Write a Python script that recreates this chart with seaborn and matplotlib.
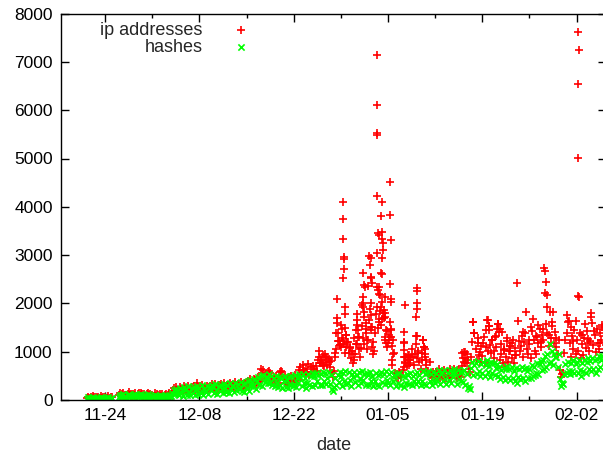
import numpy as np
import pandas as pd
import matplotlib
matplotlib.use('Agg')
import matplotlib.pyplot as plt
import matplotlib.dates as mdates
import seaborn as sns

nan = np.nan

# samples every 4 hours starting 2013-11-21 00:00 (one row = one day)
start = '2013-11-21 00:00'

hashes_w1 = [nan, nan, 30, 52, 18, 41,
             27, 55, 36, 12, 48, 33,
             44, 21, 58, 30, 39, 15,
             50, 26, 34, 61, 22, 45,
             38, nan, nan, nan, nan, nan,
             70, 112, 58, 95, 124, 66,
             88, 47, 103, 130, 76, 92]
hashes_w2 = [64, 105, 82, 121, 53, 97,
             110, 73, 128, 88, 61, 102,
             57, 93, 115, 70, 99, 48,
             84, 62, 107, 45, 91, 76,
             52, 98, 66, 87, 40, 79,
             95, 48, 73, 104, 58, 83,
             150, 205, 132, 238, 176, 121]
hashes_w3 = [112, 251, 168, 84, 276, 197,
             231, 108, 283, 162, 95, 258,
             148, 272, 99, 219, 295, 131,
             256, 142, 307, 110, 236, 184,
             163, 289, 121, 262, 201, 318,
             276, 147, 322, 214, 124, 296,
             178, 310, 232, 137, 334, 251]
hashes_w4 = [171, 309, 138, 343, 219, 281,
             297, 158, 356, 205, 332, 229,
             238, 372, 181, 326, 157, 351,
             254, 389, 196, 424, 281, 362,
             296, 441, 228, 398, 468, 309,
             331, 492, 287, 521, 379, 452,
             476, 342, 548, 361, 497, 309]
hashes_w5 = [448, 285, 503, 351, 262, 468,
             312, 451, 248, 398, 487, 271,
             409, 241, 467, 318, 496, 282,
             331, 512, 262, 448, 357, 529,
             471, 291, 538, 342, 447, 256,
             362, 541, 305, 498, 281, 552,
             507, 318, 566, 389, 524, 301]
hashes_w6 = [532, 318, 589, 397, 561, 336,
             448, 581, 331, 512, 228, 176,
             271, 452, 318, 527, 365, 573,
             489, 296, 558, 402, 604, 322,
             356, 579, 421, 298, 548, 473,
             589, 382, 521, 309, 571, 428,
             352, 597, 418, 538, 315, 562]
hashes_w7 = [521, 305, 578, 384, 502, 291,
             398, 561, 318, 512, 282, 547,
             586, 372, 531, 326, 599, 414,
             348, 548, 309, 572, 401, 509,
             491, 284, 538, 362, 561, 302,
             318, 503, 271, 482, 352, 528,
             519, 341, 566, 312, 491, 389]
hashes_w8 = [531, 322, 582, 388, 509, 301,
             395, 592, 331, 546, 306, 558,
             601, 402, 531, 318, 579, 421,
             352, 562, 437, 622, 341, 545,
             576, 389, 618, 428, 331, 561,
             418, 612, 347, 569, 469, 634,
             558, 341, 628, 437, 584, 396]
hashes_w9 = [581, 372, 622, 305, 538, 251,
             292, 236, 658, 791, 512, 733,
             761, 528, 812, 598, 492, 741,
             561, 784, 502, 718, 838, 583,
             712, 481, 796, 561, 759, 522,
             662, 748, 503, 681, 436, 628,
             482, 661, 419, 632, 694, 458]
hashes_w10 = [632, 418, 677, 452, 608, 391,
              661, 345, 482, 643, 427, 689,
              455, 638, 401, 672, 597, 449,
              648, 463, 716, 501, 681, 522,
              566, 774, 538, 746, 801, 612,
              838, 641, 915, 692, 958, 761,
              1150, 789, 1021, 732, 946, 898]
hashes_w11 = [891, 682, 958, 431, 292, 361,
              322, 528, 738, 551, 779, 592,
              538, 768, 597, 823, 556, 742,
              788, 569, 836, 612, 498, 761,
              601, 831, 552, 796, 867, 637,
              812, 592, 878, 651, 821, 566,
              856, 643, 907, 688, 832, 918]
hashes_w12 = [862, 698, 935, 712, 889, 741]

ip_w1 = [nan, nan, 45, 70, 35, 60,
         40, 80, 52, 30, 66, 48,
         58, 35, 75, 45, 62, 30,
         68, 40, 50, 85, 38, 60,
         55, nan, nan, nan, nan, nan,
         95, 140, 80, 120, 150, 90,
         110, 70, 125, 160, 100, 115]
ip_w2 = [90, 130, 105, 150, 80, 125,
         140, 95, 150, 115, 90, 130,
         80, 120, 145, 95, 125, 75,
         110, 85, 135, 70, 120, 100,
         80, 125, 90, 115, 65, 105,
         120, 75, 100, 135, 85, 110,
         185, 240, 165, 275, 210, 160]
ip_w3 = [185, 265, 210, 150, 290, 230,
         250, 175, 300, 220, 160, 275,
         200, 285, 165, 245, 350, 190,
         275, 205, 320, 170, 255, 230,
         215, 300, 185, 280, 240, 330,
         295, 210, 335, 245, 190, 310,
         230, 325, 260, 200, 345, 280]
ip_w4 = [240, 320, 205, 350, 265, 300,
         315, 230, 365, 260, 340, 280,
         285, 375, 250, 340, 225, 360,
         305, 390, 270, 430, 330, 375,
         350, 445, 310, 415, 470, 365,
         400, 640, 560, 620, 445, 470,
         490, 590, 610, 560, 505, 385]
ip_w5 = [460, 360, 500, 410, 345, 470,
         590, 600, 580, 430, 485, 350,
         435, 320, 470, 385, 500, 360,
         395, 510, 345, 460, 415, 620,
         680, 560, 720, 610, 540, 650,
         590, 740, 520, 680, 560, 710,
         640, 530, 700, 600, 820, 760]
ip_w6 = [820, 760, 940, 700, 880, 790,
         730, 850, 690, 800, 560, 480,
         610, 880, 1060, 1380, 1230, 1140,
         1090, 1480, 1250, 1160, 980, 1350,
         1200, 980, 1100, 870, 1010, 760,
         820, 960, 1160, 1450, 1310, 900,
         1070, 1540, 1280, 1720, 1460, 1240]
ip_w7 = [1240, 1650, 1880, 1520, 1100, 960,
         1380, 1780, 1920, 1500, 1670, 1840,
         1560, 2030, 1870, 1300, 1190, 1420,
         1180, 1350, 1620, 1480, 1240, 980,
         560, 470, 540, 460, 580, 520,
         480, 620, 1180, 760, 890, 700,
         820, 930, 760, 1050, 880, 720]
ip_w8 = [960, 1330, 870, 1020, 780, 640,
         830, 1240, 1100, 960, 720, 610,
         600, 520, 560, 480, 590, 540,
         470, 580, 530, 640, 450, 560,
         590, 480, 620, 510, 450, 570,
         500, 640, 460, 590, 550, 650,
         570, 460, 630, 520, 600, 480]
ip_w9 = [700, 860, 1000, 760, 960, 820,
         640, 580, 900, 1210, 1610, 1380,
         1050, 820, 1290, 940, 780, 1120,
         910, 1180, 760, 1440, 1660, 1020,
         1540, 1130, 980, 1250, 870, 1310,
         1090, 1470, 1575, 1400, 820, 960,
         760, 1040, 690, 880, 1220, 790]
ip_w10 = [1020, 1125, 870, 1250, 760, 1080,
          940, 2430, 1645, 1230, 1010, 1330,
          880, 1200, 1390, 1820, 1060, 950,
          1160, 870, 1420, 1680, 1250, 1010,
          960, 1300, 1180, 1460, 1090, 1350,
          1240, 2740, 2215, 1580, 1390, 1120,
          1820, 1290, 1530, 1820, 1170, 1400]
ip_w11 = [1100, 960, 1240, 620, 480, 540,
          560, 980, 1240, 1750, 1610, 1645,
          1180, 890, 1320, 1050, 1450, 960,
          1240, 1010, 2130, 1380, 860, 1150,
          930, 1280, 1070, 1420, 1190, 1010,
          1230, 1800, 1595, 1130, 1350, 990,
          1460, 1180, 1050, 1390, 1240, 1510]
ip_w12 = [1210, 1450, 1130, 1320, 1080, 1400]

# extra ip points (days after 11-24, value)
spike_days = [31.75, 31.7, 31.85, 32.0, 32.4, 32.7, 33.0, 33.3,
              34.2, 34.3, 34.38, 34.38, 34.4, 34.55, 34.8,
              35.0, 35.1, 35.27, 35.27, 35.36, 35.36, 35.47, 35.5, 35.47, 35.6, 35.62, 35.65, 35.7, 35.75, 35.9,
              36.4, 36.8, 36.9, 37.2, 37.3, 37.35, 37.37, 37.45, 37.47, 37.7,
              38.2, 38.33, 38.33, 38.35, 38.33, 38.43, 38.48, 38.5, 38.63, 38.7, 38.8, 38.9,
              39.1, 39.2, 39.3, 39.4, 39.4, 39.42, 39.45, 39.45, 39.5, 39.55, 39.55, 39.7, 39.9,
              40.32, 40.32, 40.31, 40.34, 40.4, 40.32, 40.32, 40.47, 40.5, 40.6, 40.7, 40.7, 40.72, 40.8, 40.9, 40.95,
              41.0, 41.06, 41.06, 41.1, 41.15, 41.15, 41.17, 41.2, 41.25, 41.3, 41.4, 41.5, 41.55, 41.57, 41.6, 41.7, 41.9,
              42.2, 42.3, 42.3, 42.32, 42.4, 42.4, 42.45, 42.47, 42.5, 42.55, 42.6, 42.65, 42.7,
              44.3, 44.35, 44.36, 44.4, 44.42, 44.5, 44.52, 44.55,
              45.0, 45.1, 45.3, 45.4,
              46.1, 46.2, 46.26, 46.26, 46.27, 46.35, 46.35, 46.5,
              47.1, 47.2, 47.3, 47.45, 47.47, 47.7, 48.2,
              53.0, 53.25, 53.4, 53.42, 53.75,
              54.66, 54.8, 55.3, 55.7, 56.2, 56.5, 56.9, 56.92, 57.05, 57.4, 57.8, 58.1, 58.4, 58.55,
              58.7, 58.9, 59.2, 59.6, 60.1, 60.12, 60.4, 60.8, 61.7, 62.1, 62.9, 63.2, 63.9, 64.3,
              64.7, 65.0, 65.3, 65.45, 65.55, 65.6, 65.9, 66.4, 67.0, 68.6, 69.1, 69.5, 69.9,
              70.15, 70.15, 70.2, 70.2, 70.35, 70.8, 71.3, 71.7, 72.15, 72.6, 73.4, 73.8, 74.1]
spike_vals = [1020, 880, 760, 830, 720, 950, 884, 793,
              980, 1380, 2090, 1704, 1600, 1228, 1139,
              1550, 1290, 3740, 2532, 4105, 3327, 2960, 2912, 2712, 1931, 1774, 1484, 1091, 1345, 1207,
              1076, 950, 1290, 1449, 1159, 1774, 1656, 1552, 1310, 1050,
              1967, 2635, 2138, 2002, 1931, 1828, 2380, 1150, 2333, 1600, 1380, 1060,
              2360, 2981, 2795, 2933, 2532, 2002, 1760, 1449, 2553, 2428, 1517, 1200, 1020,
              7142, 6106, 5486, 5520, 4223, 3037, 2345, 3451, 2277, 2194, 3416, 2333, 1621, 2173, 2623, 3809,
              1919, 3484, 2608, 3327, 4105, 2933, 1670, 3244, 3105, 1808, 1691, 2138, 1795, 1724, 1250, 1440, 1100,
              1242, 4519, 3830, 2395, 3312, 1310, 2097, 2035, 1449, 820, 1120, 725, 960,
              896, 690, 1414, 1207, 1035, 793, 1967, 884,
              931, 725, 828, 884,
              1150, 1724, 2312, 2014, 1331, 2263, 1884, 980,
              966, 1242, 1103, 1056, 884, 828, 793,
              966, 793, 1000, 863, 760,
              1610, 1380, 1180, 990, 1310, 1090, 1660, 1440, 1540, 1250, 1020, 1330, 1575, 1470,
              1150, 1400, 1060, 1280, 1125, 1020, 1190, 940, 1120, 1400, 1240, 1510, 1330, 1560,
              1210, 1480, 2670, 2445, 2180, 1920, 1350, 1610, 1290, 1380, 1520, 1230, 1640,
              5015, 2145, 7610, 6540, 7245, 1340, 1580, 1270, 1715, 1430, 1190, 1550, 1320]

hashes = (hashes_w1 + hashes_w2 + hashes_w3 + hashes_w4 + hashes_w5 + hashes_w6
          + hashes_w7 + hashes_w8 + hashes_w9 + hashes_w10 + hashes_w11 + hashes_w12)
ip = (ip_w1 + ip_w2 + ip_w3 + ip_w4 + ip_w5 + ip_w6
      + ip_w7 + ip_w8 + ip_w9 + ip_w10 + ip_w11 + ip_w12)

times = pd.date_range(start, periods=len(hashes), freq='4h')
ref = pd.Timestamp('2013-11-24')
spike_times = ref + pd.to_timedelta(spike_days, unit='D')

df_hash = pd.DataFrame({'date': times, 'count': hashes}).dropna()
df_ip = pd.DataFrame({'date': list(times) + list(spike_times),
                      'count': ip + spike_vals}).dropna()

sns.set_style("ticks")
plt.rcParams['font.family'] = ['Liberation Sans', 'DejaVu Sans']

fig = plt.figure(figsize=(6.03, 4.55), dpi=100)
ax = fig.add_axes([61 / 603, 55 / 455, (606 - 61) / 603, (400 - 13.6) / 455])

sns.scatterplot(data=df_ip, x='date', y='count', marker='+', color='#ff0000',
                s=30, linewidth=1.2, label='ip addresses', ax=ax)
sns.scatterplot(data=df_hash, x='date', y='count', marker='x', color='#00ff00',
                s=20, linewidth=1.2, label='hashes', ax=ax)

ax.set_xlim(ref - pd.Timedelta(days=6.55), ref + pd.Timedelta(days=74.36))
ax.set_ylim(0, 8000)
ax.set_yticks(range(0, 8001, 1000))
ax.set_xticks(pd.date_range('2013-11-24', periods=6, freq='14D'))
ax.xaxis.set_major_formatter(mdates.DateFormatter('%m-%d'))
ax.xaxis.set_minor_locator(mdates.WeekdayLocator(byweekday=mdates.SU))

ax.tick_params(which='both', direction='in', top=True, right=True, width=1, colors='black', labelsize=12.5)
ax.tick_params(which='major', length=6, pad=6)
ax.tick_params(which='minor', length=3)
for sp in ax.spines.values():
    sp.set_linewidth(1)
    sp.set_color('black')

ax.set_xlabel('date', fontsize=13, labelpad=10)
ax.set_ylabel('')

ax.legend(loc='upper right', bbox_to_anchor=(266 / 603, 1 - 5.5 / 455), bbox_transform=fig.transFigure,
          markerfirst=False, frameon=False, fontsize=13, handlelength=1.0, handletextpad=1.6,
          labelspacing=0.0, borderpad=0.4)

fig.savefig('out.png', dpi=100)
